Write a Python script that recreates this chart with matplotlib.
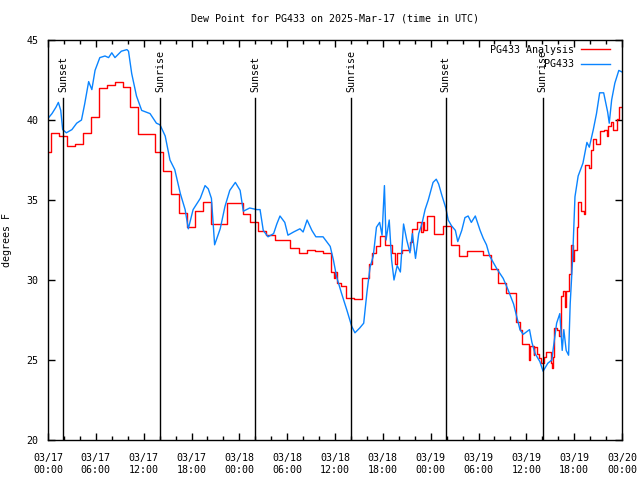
import matplotlib
matplotlib.use("Agg")
import matplotlib.pyplot as plt
import matplotlib.dates as mdates
from matplotlib.lines import Line2D
import pandas as pd
import numpy as np

# ---- data (hours since 2025-03-17 00:00 UTC) ----
analysis_hours = [0.0, 0.4, 1.4, 2.4, 3.4, 4.35, 5.35, 6.4, 7.4, 8.4, 9.35, 10.3, 11.35, 13.4, 14.4,
                  15.4, 16.4, 17.4, 18.4, 19.4, 20.4, 22.4, 24.4, 25.4, 26.4, 27.3, 28.5, 30.4, 31.5,
                  32.5, 33.5, 34.5, 35.5, 35.9, 36.0, 36.3, 36.8, 37.4, 38.4, 39.4, 40.3, 40.6, 41.2,
                  41.6, 42.3, 43.2, 43.5, 43.8, 44.4, 45.4, 45.6, 46.3, 46.8, 47.0, 47.2, 47.5, 48.4,
                  49.5, 50.5, 51.5, 52.6, 54.6, 55.6, 56.5, 57.5, 58.7, 59.2, 59.4, 60.3, 60.4, 60.9,
                  61.0, 61.3, 61.6, 61.9, 62.2, 62.5, 63.1, 63.2, 63.3, 63.5, 63.9, 64.1, 64.3, 64.6,
                  64.8, 65.0, 65.3, 65.6, 65.8, 66.0, 66.3, 66.5, 66.9, 67.2, 67.4, 67.8, 68.1, 68.4,
                  68.8, 69.3, 69.7, 70.1, 70.3, 70.6, 70.9, 71.4, 71.6, 72.0]
analysis_vals = [38.0, 39.2, 39.0, 38.4, 38.5, 39.2, 40.2, 42.0, 42.2, 42.4, 42.05, 40.8, 39.1, 38.0, 36.8,
                 35.4, 34.2, 33.3, 34.3, 34.85, 33.5, 34.8, 34.1, 33.6, 33.05, 32.8, 32.5, 32.0, 31.7,
                 31.9, 31.8, 31.7, 30.5, 30.1, 30.5, 29.8, 29.6, 28.85, 28.8, 30.1, 31.0, 31.7, 32.1,
                 32.75, 32.2, 31.7, 31.0, 31.7, 31.9, 32.4, 33.2, 33.65, 33.0, 33.65, 33.1, 34.0, 32.9,
                 33.4, 32.2, 31.5, 31.8, 31.55, 30.7, 29.8, 29.2, 27.4, 26.9, 26.0, 25.0, 25.9, 25.3,
                 25.8, 25.4, 25.1, 24.8, 25.2, 25.5, 24.8, 24.5, 25.2, 27.0, 26.9, 26.5, 29.0, 29.3,
                 28.3, 29.3, 30.4, 32.2, 31.2, 31.9, 33.3, 34.9, 34.3, 34.1, 37.2, 37.0, 38.1, 38.8,
                 38.5, 39.3, 39.4, 39.0, 39.6, 39.9, 39.4, 40.05, 40.8, 40.8]

obs_hours = [0.0, 0.5, 1.0, 1.3, 1.6, 1.84, 2.3, 3.0, 3.6, 4.2, 4.6, 5.1, 5.5, 5.9, 6.5, 7.15, 7.6, 8.0,
             8.4, 9.2, 9.9, 10.1, 10.5, 11.1, 11.75, 12.8, 13.6, 14.05, 14.7, 15.3, 15.9, 16.6, 17.2,
             17.6, 18.2, 19.1, 19.7, 20.1, 20.5, 20.9, 21.6, 22.2, 22.8, 23.5, 24.1, 24.5, 25.3, 26.2,
             26.6, 27.0, 27.6, 28.3, 28.7, 29.1, 29.7, 30.1, 30.8, 31.6, 32.0, 32.5, 33.1, 33.6, 34.5,
             35.4, 35.8, 36.2, 36.8, 37.5, 38.1, 38.5, 39.1, 39.6, 40.0, 40.4, 40.8, 41.2, 41.6, 41.9,
             42.2, 42.4, 42.8, 43.1, 43.4, 43.8, 44.2, 44.6, 45.0, 45.4, 45.7, 46.1, 46.5, 46.9, 47.3,
             47.7, 48.3, 48.7, 49.0, 49.4, 49.9, 50.2, 50.6, 51.1, 51.4, 51.9, 52.3, 52.7, 53.1, 53.6,
             54.2, 54.6, 55.0, 55.4, 56.3, 57.1, 57.7, 58.4, 58.8, 59.2, 59.6, 60.4, 60.7, 61.1, 61.7,
             62.1, 62.7, 63.2, 63.4, 63.8, 64.2, 64.5, 64.7, 65.0, 65.3, 65.5, 65.8, 66.1, 66.5, 67.1,
             67.6, 67.9, 68.4, 68.8, 69.2, 69.7, 70.2, 70.4, 70.7, 71.1, 71.6, 72.0]
obs_vals = [40.1, 40.4, 40.8, 41.1, 40.6, 39.4, 39.2, 39.4, 39.8, 40.0, 41.0, 42.4, 41.9, 43.1, 43.9, 44.0,
            43.9, 44.2, 43.9, 44.3, 44.4, 44.3, 42.9, 41.5, 40.6, 40.4, 39.8, 39.7, 39.0, 37.5, 36.9,
            35.4, 34.4, 33.2, 34.4, 35.1, 35.9, 35.7, 35.1, 32.2, 33.2, 34.6, 35.6, 36.1, 35.6, 34.3,
            34.5, 34.4, 34.4, 33.1, 32.7, 32.9, 33.5, 34.0, 33.6, 32.8, 33.0, 33.2, 33.0, 33.75, 33.1,
            32.7, 32.7, 32.1, 31.25, 30.2, 29.2, 28.1, 27.1, 26.7, 27.0, 27.3, 29.2, 30.8, 31.5, 33.3,
            33.6, 32.8, 35.9, 32.5, 33.75, 31.25, 30.0, 30.9, 30.5, 33.5, 32.5, 31.7, 32.9, 31.35, 32.9,
            33.5, 34.4, 35.0, 36.1, 36.3, 36.0, 35.3, 34.5, 33.75, 33.4, 33.1, 32.4, 33.1, 33.9, 34.0,
            33.6, 34.0, 33.1, 32.6, 32.2, 31.5, 30.7, 30.1, 29.4, 28.5, 27.7, 26.9, 26.6, 26.9, 26.1,
            25.4, 24.9, 24.3, 24.8, 25.0, 25.8, 27.3, 27.9, 25.6, 26.9, 25.6, 25.3, 28.5, 31.25, 35.2,
            36.5, 37.3, 38.6, 38.3, 39.4, 40.4, 41.7, 41.7, 40.5, 39.8, 41.25, 42.3, 43.1, 43.0]

sun_hours = [1.92, 14.05, 25.97, 38.0, 49.9, 62.05]
sun_labels = ["Sunset", "Sunrise", "Sunset", "Sunrise", "Sunset", "Sunrise"]

series_labels = ["PG433 Analysis", "PG433"]
title = "Dew Point for PG433 on 2025-Mar-17 (time in UTC)"
ylabel = "degrees F"

# ---- plotting ----
base = pd.Timestamp("2025-03-17 00:00")
t_an = base + pd.to_timedelta(analysis_hours, unit="h")
t_ob = base + pd.to_timedelta(obs_hours, unit="h")
t_sun = base + pd.to_timedelta(sun_hours, unit="h")

FONT = "DejaVu Sans Mono"
FS = 7.2
plt.rcParams["font.family"] = [FONT]

fig = plt.figure(figsize=(6.4, 4.8), dpi=100)
ax = fig.add_axes([48 / 640, 40 / 480, 574 / 640, 400 / 480])

red = "#ff0000"
blue = "#0a84ff"
ax.plot(t_an, analysis_vals, drawstyle="steps-post", color=red, lw=1.0)
ax.plot(t_ob, obs_vals, color=blue, lw=1.0)

for ts, lab in zip(t_sun, sun_labels):
    ax.plot([ts, ts], [20, 41.4], color="black", lw=1.0)
    ax.text(ts, 41.75, lab, rotation=90, ha="center", va="bottom", fontsize=FS)

ax.set_xlim(base, base + pd.Timedelta(hours=72))
ax.set_ylim(20, 45)
ax.xaxis.set_major_locator(mdates.HourLocator(byhour=range(0, 24, 6)))
ax.xaxis.set_minor_locator(mdates.HourLocator(byhour=range(0, 24, 2)))
ax.xaxis.set_major_formatter(mdates.DateFormatter("%m/%d\n%H:%M"))
ax.set_yticks([20, 25, 30, 35, 40, 45])
ax.tick_params(axis="both", which="major", direction="in", length=5, width=1,
               top=True, right=True, labelsize=FS)
ax.tick_params(axis="x", which="major", pad=9)
ax.tick_params(axis="y", which="major", pad=7)
ax.tick_params(axis="both", which="minor", direction="in", length=3, width=1,
               top=True, right=True)
ax.tick_params(axis="y", which="minor", length=0)
for sp in ax.spines.values():
    sp.set_linewidth(1.0)

ax.set_title(title, fontsize=FS, pad=13)
ax.set_ylabel(ylabel, fontsize=FS, labelpad=10)

handles = [Line2D([], [], color=red, lw=1.0), Line2D([], [], color=blue, lw=1.0)]
ax.legend(handles, series_labels, loc="upper right", frameon=False, markerfirst=False,
          fontsize=FS, handlelength=2.9, handletextpad=0.7, labelspacing=0.45,
          borderaxespad=0.0, borderpad=0.0,
          bbox_to_anchor=(1 - 12 / 574, 1 - 5 / 400))

fig.canvas.draw()
for lbl in ax.get_xticklabels():
    lbl.set_linespacing(1.3)

fig.savefig("out.png", dpi=100)
